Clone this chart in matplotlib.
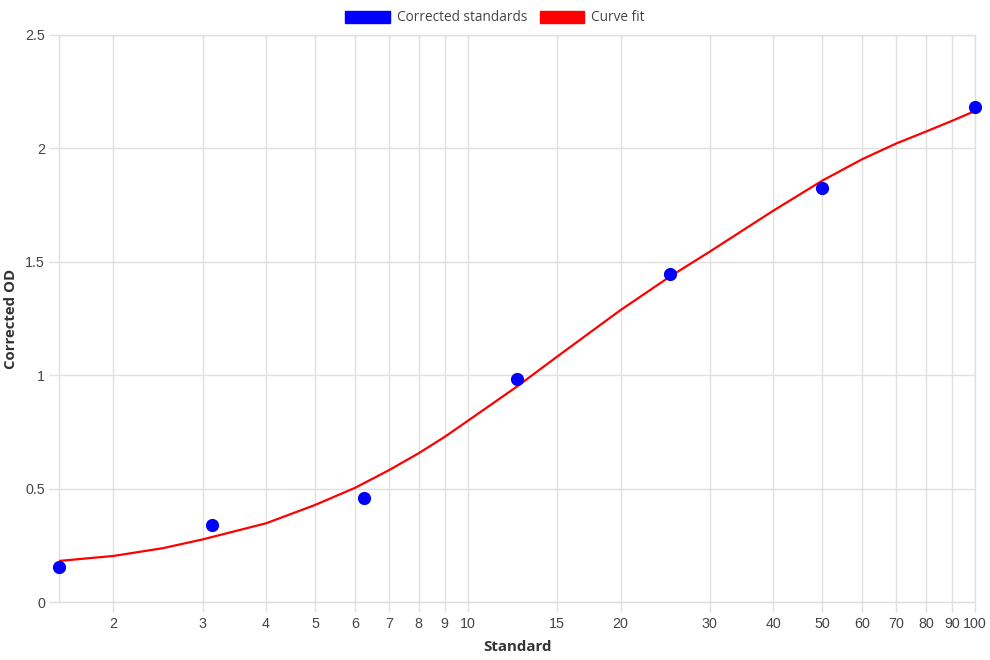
import matplotlib
matplotlib.use("Agg")
import matplotlib.pyplot as plt
from matplotlib.patches import Patch
from matplotlib.ticker import FixedLocator, NullLocator, FuncFormatter

# standards (concentration) and measured corrected OD
standard = [1.5625, 3.125, 6.25, 12.5, 25, 50, 100]
corrected_od = [0.156, 0.338, 0.457, 0.982, 1.446, 1.824, 2.181]

# curve fit
fit_x = [1.5625, 2, 2.5, 3, 4, 5, 6, 7, 8, 9, 10, 12.5, 15, 17.5, 20, 25,
         30, 40, 50, 60, 70, 80, 90, 100]
fit_y = [0.181, 0.203, 0.237, 0.276, 0.347, 0.428, 0.504, 0.582, 0.656, 0.728,
         0.799, 0.950, 1.082, 1.192, 1.287, 1.434, 1.545, 1.725, 1.858, 1.953,
         2.022, 2.074, 2.121, 2.165]

x_ticks = [2, 3, 4, 5, 6, 7, 8, 9, 10, 15, 20, 30, 40, 50, 60, 70, 80, 90, 100]
y_ticks = [0, 0.5, 1, 1.5, 2, 2.5]

grid_col = "#e0e0e0"
tick_col = "#444444"
title_font = ["Open Sans", "DejaVu Sans"]
tick_font = ["Liberation Sans", "DejaVu Sans"]

fig = plt.figure(figsize=(9.9, 6.6), dpi=100)
ax = fig.add_axes([59 / 990, 1 - 602 / 660, (975 - 59) / 990, (602 - 35) / 660])

ax.plot(fit_x, fit_y, color="#ff0000", linewidth=1.6, zorder=3)
ax.plot(standard, corrected_od, "o", color="#0000ff", markersize=9.5,
        markeredgewidth=0, zorder=4, clip_on=False)

ax.set_xscale("log")
ax.set_xlim(1.5625, 100)
ax.set_ylim(0, 2.5)
ax.xaxis.set_major_locator(FixedLocator(x_ticks))
ax.xaxis.set_minor_locator(NullLocator())
ax.xaxis.set_major_formatter(FuncFormatter(lambda v, p: "%g" % v))
ax.set_yticks(y_ticks)
ax.yaxis.set_major_formatter(FuncFormatter(lambda v, p: "%g" % v))

ax.grid(True, color=grid_col, linewidth=1)
ax.set_axisbelow(True)
ax.tick_params(axis="both", colors=grid_col, labelcolor=tick_col,
               labelsize=10.3, length=7, width=1)
ax.tick_params(axis="x", pad=4)
ax.tick_params(axis="y", pad=3)
for lab in ax.get_xticklabels() + ax.get_yticklabels():
    lab.set_family(tick_font)
for s in ax.spines.values():
    s.set_color(grid_col)
    s.set_linewidth(1)

ax.set_xlabel("Standard", fontsize=10.8, fontweight="bold", color="#333333",
              family=title_font)
ax.set_ylabel("Corrected OD", fontsize=10.8, fontweight="bold", color="#333333",
              family=title_font)
ax.xaxis.set_label_coords(0.5, -0.067)
ax.yaxis.set_label_coords(-0.045, 0.5)

handles = [Patch(facecolor="#0000ff", edgecolor="#0000ff", label="Corrected standards"),
           Patch(facecolor="#ff0000", edgecolor="#ff0000", label="Curve fit")]
fig.legend(handles=handles, loc="upper center", bbox_to_anchor=(0.5, 1.003),
           ncol=2, frameon=False, handlelength=3.3, handleheight=1.0,
           handletextpad=0.5, columnspacing=0.9,
           prop={"family": title_font, "size": 9.8}, labelcolor="#444444")

fig.savefig("out.png", dpi=100)
